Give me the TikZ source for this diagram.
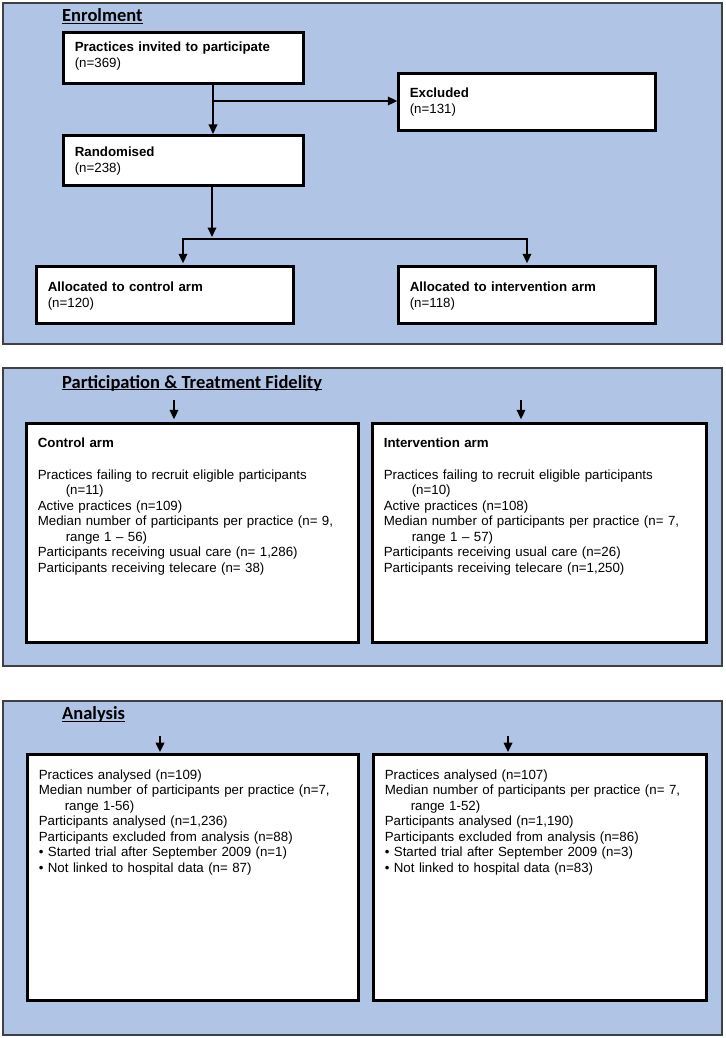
\documentclass[tikz,border=0pt]{standalone}
\usepackage{fontspec}
\setmainfont{Liberation Sans}
\newfontfamily\headfont{Carlito}
\usetikzlibrary{arrows.meta,positioning}

\definecolor{panelblue}{RGB}{176,196,230}
\definecolor{panelgrey}{RGB}{64,64,64}

\begin{document}
\begin{tikzpicture}[x=1pt,y=-1pt,>={Triangle[length=9.5pt,width=8.5pt]},
  font=\fontsize{13.3}{15.5}\selectfont,
  panel/.style={draw=panelgrey,line width=1.5pt,fill=panelblue},
  heading/.style={font=\headfont\bfseries\fontsize{18.5}{20}\selectfont,anchor=base west,inner sep=0pt,text depth=0pt},
  box/.style={draw,fill=white,line width=2.8pt,outer sep=0pt,inner xsep=11.5pt,inner ysep=0pt,align=left,anchor=north west},
  flow/.style={->,line width=2pt}]

\useasboundingbox (0,0) rectangle (725,1038);

% the three stages
\draw[panel] (3,3) rectangle (722,344);
\draw[panel] (3,368) rectangle (722,666);
\draw[panel] (3,701) rectangle (722,1035);

\node[heading] (enrolhd) at (62,21.7) {Enrolment};
\node[heading] (fidhd) at (62,388) {Participation \& Treatment Fidelity};
\node[heading] (anahd) at (62,719.5) {Analysis};
\foreach \h in {enrolhd,fidhd,anahd}
  \draw[line width=1.2pt] ([yshift=-1.5pt]\h.south west) -- ([yshift=-1.5pt]\h.south east);

% enrolment
\node[box,text width=217.4pt,text height=19.7pt,text depth=31.7pt] (invited) at (63.3,32.3)
  {\textbf{Practices invited to participate}\\(n=369)};
\node[box,text width=234.4pt,text height=24.5pt,text depth=32.9pt] (excluded) at (398.3,73.3)
  {\textbf{Excluded}\\(n=131)};
\node[box,text width=217.4pt,text height=21.5pt,text depth=28.9pt,below=51.6pt of invited] (randomised)
  {\textbf{Randomised}\\(n=238)};
\node[box,text width=234.4pt,text height=25.5pt,text depth=31.9pt] (ctrlalloc) at (36.3,266.3)
  {\textbf{Allocated to control arm}\\(n=120)};
\node[box,text width=234.4pt,text height=25.5pt,text depth=31.9pt,right=104.6pt of ctrlalloc] (intvalloc)
  {\textbf{Allocated to intervention arm}\\(n=118)};

\coordinate (split) at (213,101);
\draw[flow,shorten >=1.3pt] (split |- invited.south) -- (split |- randomised.north);
\draw[flow,shorten >=1pt] (split) -- (split -| excluded.west);

\coordinate (fork) at (212,239);
\coordinate (forkl) at (183,239);
\coordinate (forkr) at (527,239);
\draw[flow,shorten >=2pt] (fork |- randomised.south) -- (fork);
\draw[flow,<->,shorten <=3pt,shorten >=3pt] (forkl |- ctrlalloc.north) -- (forkl) -- (forkr) -- (forkr |- intvalloc.north);

% participation and treatment fidelity
\node[box,text width=309.4pt,text height=23.7pt,text depth=195.7pt] (ctrlfid) at (26.3,423.3)
  {\textbf{Control arm}\\[16.5pt]
   Practices failing to recruit eligible participants\\
   \hspace*{28pt}(n=11)\\
   Active practices (n=109)\\
   Median number of participants per practice (n= 9,\\
   \hspace*{28pt}range 1 -- 56)\\
   Participants receiving usual care (n= 1,286)\\
   Participants receiving telecare (n= 38)};
\node[box,text width=311.4pt,text height=23.7pt,text depth=195.7pt,right=13.6pt of ctrlfid] (intvfid)
  {\textbf{Intervention arm}\\[16.5pt]
   Practices failing to recruit eligible participants\\
   \hspace*{28pt}(n=10)\\
   Active practices (n=108)\\
   Median number of participants per practice (n= 7,\\
   \hspace*{28pt}range 1 -- 57)\\
   Participants receiving usual care (n=26)\\
   Participants receiving telecare (n=1,250)};

\coordinate (fidl) at (174,400);
\coordinate (fidr) at (521,400);
\draw[flow,shorten >=4pt] (fidl) -- (fidl |- ctrlfid.north);
\draw[flow,shorten >=4pt] (fidr) -- (fidr |- intvfid.north);

% analysis
\node[box,text width=308.4pt,text height=24.4pt,text depth=221.4pt] (ctrlana) at (27.3,754.6)
  {Practices analysed (n=109)\\
   Median number of participants per practice (n=7,\\
   \hspace*{26pt}range 1-56)\\
   Participants analysed (n=1,236)\\
   Participants excluded from analysis (n=88)\\
   \textbullet\ Started trial after September 2009 (n=1)\\
   \textbullet\ Not linked to hospital data (n= 87)};
\node[box,text width=310.4pt,text height=24.4pt,text depth=221.4pt,right=14.6pt of ctrlana] (intvana)
  {Practices analysed (n=107)\\
   Median number of participants per practice (n= 7,\\
   \hspace*{26pt}range 1-52)\\
   Participants analysed (n=1,190)\\
   Participants excluded from analysis (n=86)\\
   \textbullet\ Started trial after September 2009 (n=3)\\
   \textbullet\ Not linked to hospital data (n=83)};

\coordinate (anal) at (160,736);
\coordinate (anar) at (508,736);
\draw[flow,shorten >=2.5pt] (anal) -- (anal |- ctrlana.north);
\draw[flow,shorten >=2.5pt] (anar) -- (anar |- intvana.north);

\end{tikzpicture}
\end{document}
